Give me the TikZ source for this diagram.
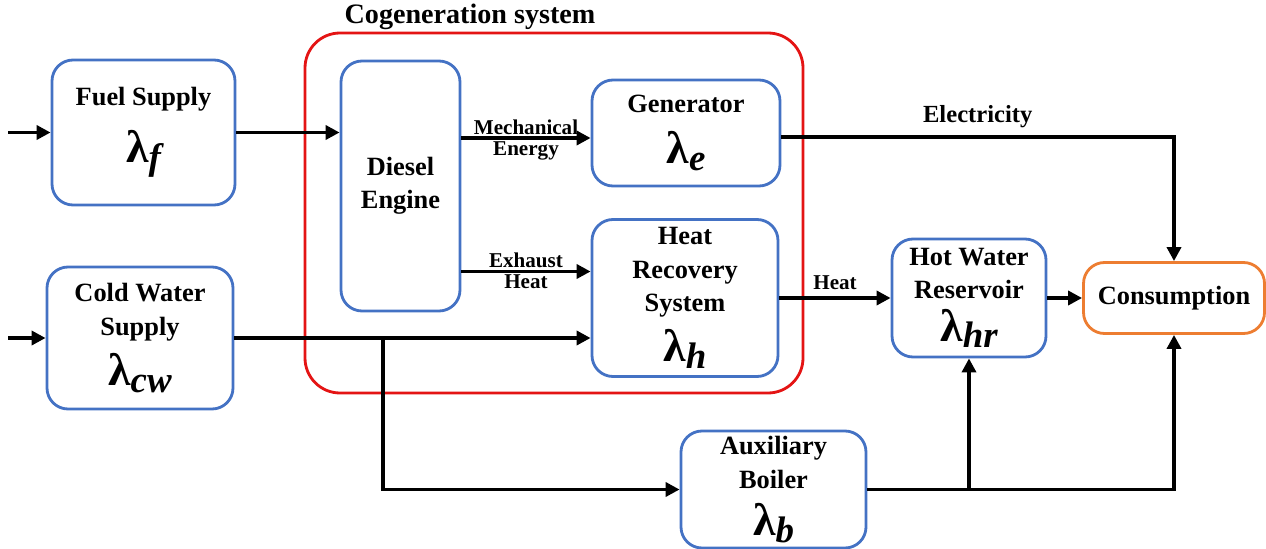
\documentclass[tikz,border=0pt]{standalone}
\usepackage{fontspec}
\setmainfont{Liberation Serif}[BoldFont={Liberation Serif Bold}, ItalicFont={Liberation Serif Italic}, BoldItalicFont={Liberation Serif Bold Italic}]
\usetikzlibrary{arrows.meta, positioning, calc}

\definecolor{boxblue}{RGB}{68,114,196}
\definecolor{boxorange}{RGB}{237,125,49}
\definecolor{cogred}{RGB}{228,20,20}

% failure rate symbol with subscript
\newcommand{\lamsym}[1]{{\fontsize{26}{26}\selectfont λ}\raisebox{-0.55ex}{\fontsize{21}{21}\selectfont\itshape #1}}

\begin{document}
\begin{tikzpicture}[
    >={Triangle[length=8pt,width=8pt]},
    block/.style={draw=boxblue, line width=1.6pt, rounded corners=0.42cm,
                  align=center, font=\rmfamily\fontsize{15}{19}\selectfont\bfseries,
                  inner sep=0pt},
    flow/.style={->, line width=2pt},
    lbl/.style={font=\rmfamily\fontsize{12}{13}\selectfont\bfseries, inner sep=1pt}
  ]
  \useasboundingbox (0,0) rectangle (25.32,10.96);

  % cogeneration frame
  \draw[cogred, line width=1.6pt, rounded corners=0.7cm]
    (6.10,3.10) rectangle (16.06,10.30);
  \node[font=\rmfamily\fontsize{16}{18}\selectfont\bfseries] (coglbl) at (9.40,10.62)
    {Cogeneration system};

  % blocks
  \node[block, minimum width=3.66cm, minimum height=2.9cm] (fuel) at (2.87,8.31)
    {Fuel Supply\\[10pt]\lamsym{f}};
  \node[block, minimum width=3.72cm, minimum height=2.84cm] (cold) at (2.80,4.20)
    {Cold Water\\Supply\\[6pt]\lamsym{cw}};
  \node[block, minimum width=2.38cm, minimum height=5.0cm] (diesel) at (8.01,7.24)
    {Diesel\\Engine};
  \node[block, minimum width=3.76cm, minimum height=2.12cm] (gen) at (13.72,8.30)
    {Generator\\[10pt]\lamsym{e}};
  \node[block, minimum width=3.72cm, minimum height=3.14cm] (hrs) at (13.70,5.0)
    {Heat\\Recovery\\System\\[6pt]\lamsym{h}};
  \node[block, minimum width=3.08cm, minimum height=2.36cm] (hwr) at (19.38,5.0)
    {Hot Water\\Reservoir\\[5pt]\lamsym{hr}};
  \node[block, draw=boxorange, minimum width=3.62cm, minimum height=1.42cm] (cons)
    at (23.48,5.0) {Consumption};
  \node[block, minimum width=3.7cm, minimum height=2.34cm] (aux) at (15.47,1.17)
    {Auxiliary\\Boiler\\[8pt]\lamsym{b}};

  \coordinate (fuelin) at (0.16,8.31);
  \coordinate (coldin) at (0.16,4.20);
  \coordinate (split) at (7.66,4.20);

  % connectors
  \draw[flow] (fuelin) -- (fuel.west);
  \draw[flow] (coldin) -- (cold.west);
  \draw[flow] (fuel.east) -- (fuel.east -| diesel.west);
  \draw[flow] ([yshift=-0.1cm]diesel.east |- gen.west) -- ([yshift=-0.1cm]gen.west)
    node[lbl, midway, above] {Mechanical}
    node[lbl, midway, below] {Energy};
  \draw[flow] ([yshift=0.53cm]diesel.east |- hrs.west) -- ([yshift=0.53cm]hrs.west)
    node[lbl, midway, above] {Exhaust}
    node[lbl, midway, below] {Heat};
  \draw[flow] (cold.east) -- (cold.east -| hrs.west);
  \draw[flow] (split) |- (aux.west);
  \draw[flow] ([yshift=-0.08cm]gen.east) -| (cons.north)
    node[lbl, pos=0.25, above=3pt, font=\rmfamily\fontsize{14}{15}\selectfont\bfseries] {Electricity};
  \draw[flow] (hrs.east) -- (hwr.west)
    node[lbl, midway, above=3pt] {Heat};
  \draw[flow] (hwr.east) -- (cons.west);
  \draw[flow] (aux.east) -| (cons.south);
  \draw[flow] (aux.east -| hwr.south) -- (hwr.south);
\end{tikzpicture}
\end{document}
